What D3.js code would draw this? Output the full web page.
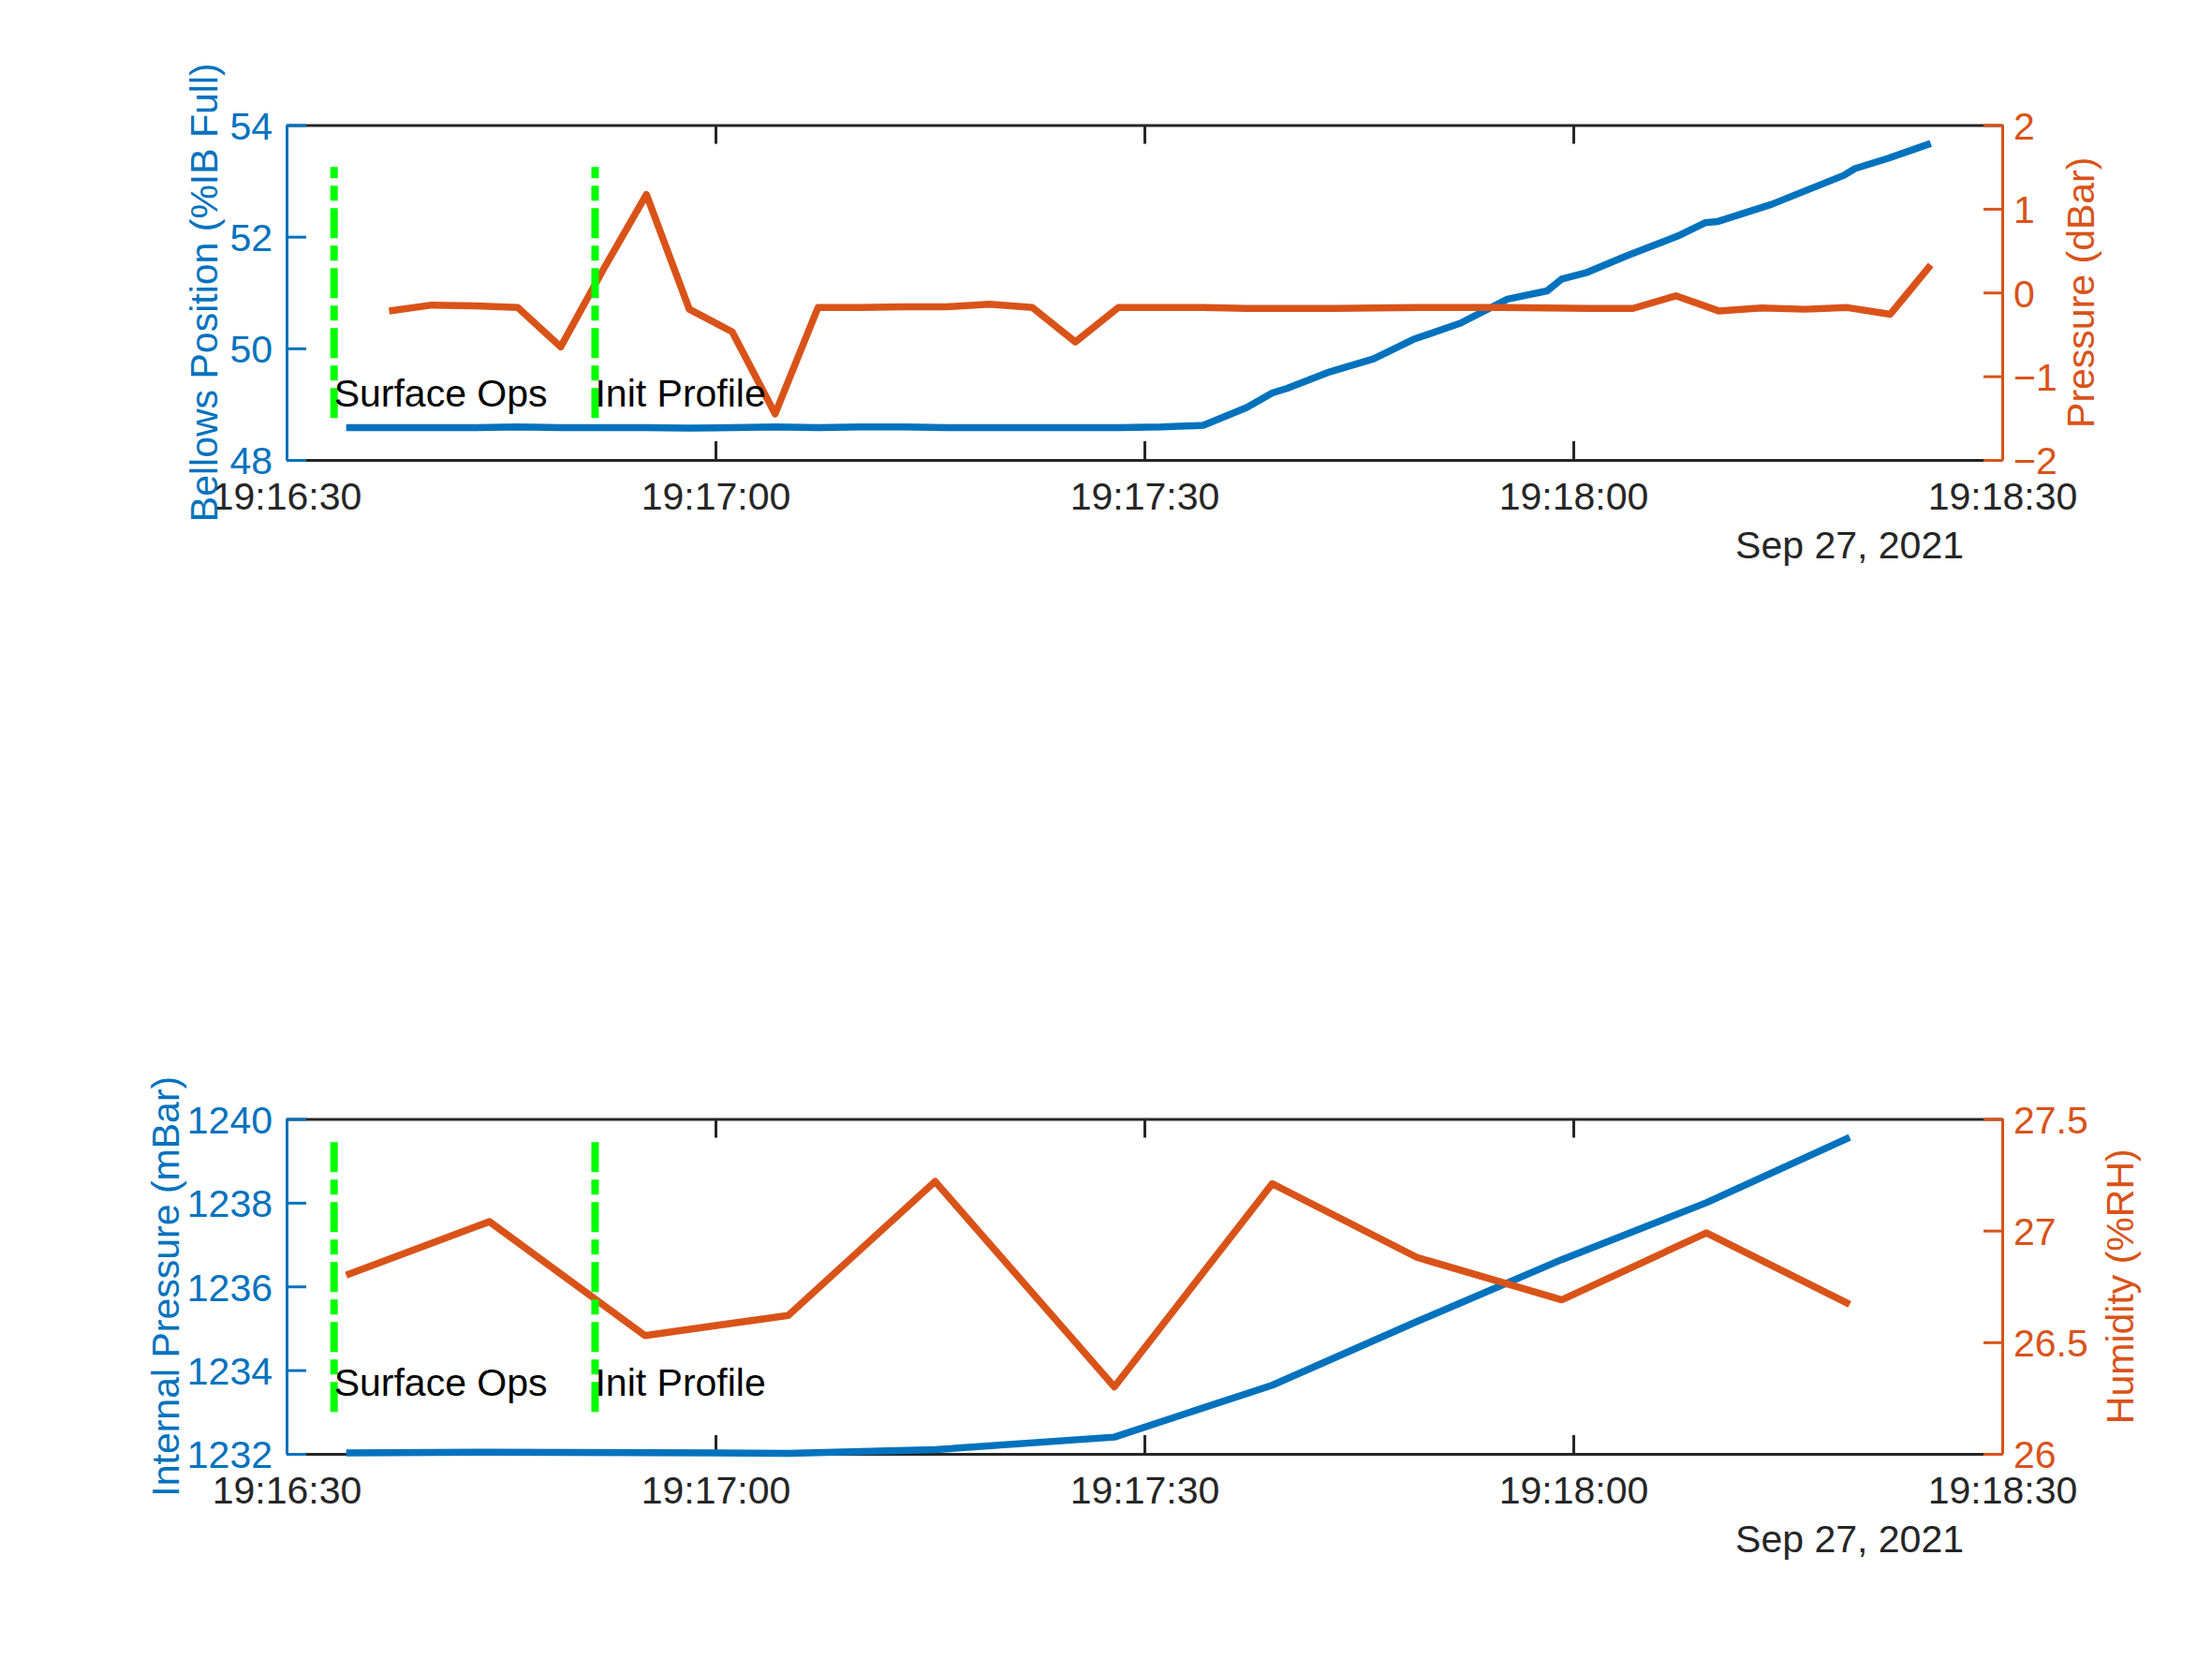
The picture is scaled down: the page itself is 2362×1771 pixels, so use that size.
<!DOCTYPE html>
<html>
<head>
<meta charset="utf-8">
<script src="https://cdn.jsdelivr.net/npm/d3@7"></script>
<style>
  html, body { margin: 0; padding: 0; background: #fff; }
  svg { display: block; }
  text { font-family: "Liberation Sans", Arial, Helvetica, sans-serif; }
</style>
</head>
<body>
<script>
// ---------------- DATA ----------------
const dayLabel = "Sep 27, 2021";
const xStart = "19:16:30";
const xEnd = "19:18:30";

// Top panel: Bellows position (left) and Pressure (right)
const bellowsTimes = [
  "19:16:34.17","19:16:37.17","19:16:40.17","19:16:43.17","19:16:46.17","19:16:49.17","19:16:52.17","19:16:55.17","19:16:58.17","19:17:01.17",
  "19:17:04.17","19:17:07.17","19:17:10.17","19:17:13.17","19:17:16.17","19:17:19.17","19:17:22.17","19:17:25.17","19:17:28.17","19:17:31.17",
  "19:17:34.13","19:17:37.16","19:17:38.94","19:17:39.95","19:17:42.99","19:17:46.02","19:17:48.81","19:17:52.10","19:17:55.39","19:17:58.17",
  "19:17:59.19","19:18:00.96","19:18:03.75","19:18:07.29","19:18:09.21","19:18:10.07","19:18:13.87","19:18:18.93","19:18:19.69","19:18:21.97",
  "19:18:25.00"
];
const bellowsValues = [
  48.58,48.58,48.58,48.58,48.59,48.58,48.58,48.58,48.57,48.58,
  48.59,48.58,48.59,48.59,48.58,48.58,48.58,48.58,48.58,48.59,
  48.62,48.94,49.20,49.28,49.58,49.81,50.16,50.45,50.88,51.03,
  51.24,51.36,51.66,52.01,52.25,52.27,52.58,53.10,53.22,53.40,
  53.67
];
const pressureTimes = [
  "19:16:37.17","19:16:40.17","19:16:43.17","19:16:46.17","19:16:49.17","19:16:52.17","19:16:55.17","19:16:58.17",
  "19:17:01.17","19:17:04.17","19:17:07.17","19:17:10.17","19:17:13.17","19:17:16.17","19:17:19.17","19:17:22.17","19:17:25.17","19:17:28.17",
  "19:17:31.17","19:17:34.17","19:17:37.17","19:17:40.17","19:17:43.17","19:17:46.17","19:17:49.17","19:17:52.17","19:17:55.17","19:17:58.17",
  "19:18:01.17","19:18:04.17","19:18:07.17","19:18:10.17","19:18:13.17","19:18:16.17","19:18:19.17","19:18:22.17","19:18:25.00"
];
const pressureValues = [
  -0.22,-0.15,-0.16,-0.18,-0.65,0.28,1.17,-0.20,
  -0.47,-1.45,-0.18,-0.18,-0.17,-0.17,-0.14,-0.18,-0.59,-0.18,
  -0.18,-0.18,-0.19,-0.19,-0.19,-0.185,-0.18,-0.18,-0.18,-0.185,
  -0.19,-0.19,-0.04,-0.22,-0.185,-0.20,-0.18,-0.26,0.33
];

// Bottom panel: Internal pressure (left) and Humidity (right)
const envTimes = [
  "19:16:34.17","19:16:44.19","19:16:55.07","19:17:05.09","19:17:15.36","19:17:27.90",
  "19:17:38.94","19:17:49.06","19:17:59.19","19:18:09.31","19:18:19.33"
];
const internalPressureValues = [1232.02,1232.04,1232.03,1232.01,1232.10,1232.40,1233.64,1235.16,1236.64,1238.00,1239.56];
const humidityValues = [26.80,27.04,26.53,26.62,27.22,26.30,27.21,26.88,26.69,26.99,26.67];

// Event markers
const eventTimes = ["19:16:33.32","19:16:51.58"];
const eventLabels = ["Surface Ops","Init Profile"];
const topMarkerSpan = [-1.5, 1.5];       // on the right (Pressure) axis
const topLabelLevel = 49.2;              // on the left (Bellows) axis
const bottomMarkerSpan = [1233, 1239.5]; // on the left (Internal Pressure) axis
const bottomLabelLevel = 1233.7;

// Axis limits / ticks
const bellowsDomain = [48, 54], bellowsTicks = [48, 50, 52, 54];
const pressureDomain = [-2, 2], pressureTicks = [-2, -1, 0, 1, 2];
const intPressDomain = [1232, 1240], intPressTicks = [1232, 1234, 1236, 1238, 1240];
const humidityDomain = [26, 27.5], humidityTicks = [26, 26.5, 27, 27.5];

// ---------------- RENDER ----------------
const W = 2362, H = 1771;
const BLUE = "#0072BD", ORANGE = "#D95319", GREEN = "#00FF00", AX = "#262626";
const FS = 41;
const left = 306, right = 2138;

const parseClock = s => {
  const [h, m, sec] = s.split(":");
  const secs = parseFloat(sec);
  return new Date(2021, 8, 27, +h, +m, Math.floor(secs), Math.round((secs - Math.floor(secs)) * 1000));
};

const svg = d3.select("body").append("svg").attr("width", W).attr("height", H);
svg.append("rect").attr("width", W).attr("height", H).attr("fill", "#fff");

const x = d3.scaleTime().domain([parseClock(xStart), parseClock(xEnd)]).range([left, right]);

function panel(cfg) {
  const { top, bottom } = cfg;
  const yL = d3.scaleLinear().domain(cfg.leftDomain).range([bottom, top]);
  const yR = d3.scaleLinear().domain(cfg.rightDomain).range([bottom, top]);
  const g = svg.append("g");

  const xTicks = d3.timeSecond.every(30);
  // bottom x axis
  const xb = g.append("g").attr("transform", `translate(0,${bottom})`)
    .call(d3.axisBottom(x).ticks(xTicks).tickFormat(d3.timeFormat("%H:%M:%S")).tickSizeInner(-20).tickSizeOuter(0).tickPadding(23));
  // top x axis (box)
  const xt = g.append("g").attr("transform", `translate(0,${top})`)
    .call(d3.axisTop(x).ticks(xTicks).tickFormat("").tickSizeInner(-20).tickSizeOuter(0));
  [xb, xt].forEach(a => {
    a.selectAll("path, line").attr("stroke", AX).attr("stroke-width", 3);
    a.selectAll("text").attr("fill", AX).attr("font-size", FS).attr("dy", null)
      .attr("dominant-baseline", "alphabetic").attr("y", 52.5);
  });

  // left y axis
  const ya = g.append("g").attr("transform", `translate(${left},0)`)
    .call(d3.axisLeft(yL).tickValues(cfg.leftTicks).tickFormat(d3.format("")).tickSizeInner(-21).tickSizeOuter(0).tickPadding(15));
  ya.selectAll("path, line").attr("stroke", BLUE).attr("stroke-width", 3);
  ya.selectAll("text").attr("fill", BLUE).attr("font-size", FS).attr("dy", "0.36em");

  // right y axis
  const yb = g.append("g").attr("transform", `translate(${right},0)`)
    .call(d3.axisRight(yR).tickValues(cfg.rightTicks).tickFormat(d3.format("")).tickSizeInner(-20).tickSizeOuter(0).tickPadding(12));
  yb.selectAll("path, line").attr("stroke", ORANGE).attr("stroke-width", 3);
  yb.selectAll("text").attr("fill", ORANGE).attr("font-size", FS).attr("dy", "0.36em");

  // date label
  g.append("text").attr("x", 2097).attr("y", bottom + 105).attr("text-anchor", "end")
    .attr("font-size", FS).attr("fill", AX).text(dayLabel);

  // y labels
  const midY = (top + bottom) / 2;
  g.append("text").attr("transform", `translate(${cfg.leftLabelX},${midY}) rotate(-90)`)
    .attr("text-anchor", "middle").attr("font-size", FS).attr("fill", BLUE).text(cfg.leftLabel);
  g.append("text").attr("transform", `translate(${cfg.rightLabelX},${midY}) rotate(-90)`)
    .attr("text-anchor", "middle").attr("font-size", FS).attr("fill", ORANGE).text(cfg.rightLabel);

  // data lines
  const line = (ys) => d3.line().x(d => x(d.t)).y(d => ys(d.v));
  const toPts = (ts, vs) => ts.map((t, i) => ({ t: parseClock(t), v: vs[i] }));
  g.append("path").datum(toPts(cfg.leftTimes, cfg.leftValues))
    .attr("d", line(yL)).attr("fill", "none").attr("stroke", BLUE).attr("stroke-width", 7.5).attr("stroke-linejoin", "round");
  g.append("path").datum(toPts(cfg.rightTimes, cfg.rightValues))
    .attr("d", line(yR)).attr("fill", "none").attr("stroke", ORANGE).attr("stroke-width", 7.5).attr("stroke-linejoin", "round");

  // event markers
  const ms = cfg.markerScale;
  eventTimes.forEach((et, i) => {
    const xe = x(parseClock(et));
    g.append("line").attr("x1", xe).attr("x2", xe)
      .attr("y1", ms(cfg.markerSpan[0])).attr("y2", ms(cfg.markerSpan[1]))
      .attr("stroke", GREEN).attr("stroke-width", 8).attr("stroke-dasharray", "32,8,16,8");
    g.append("text").attr("x", xe).attr("y", yL(cfg.labelLevel)).attr("dy", "0.35em")
      .attr("font-size", FS).attr("fill", "#000").text(eventLabels[i]);
  });
}

let yRtop = null;
panel({
  top: 133.5, bottom: 491,
  leftDomain: bellowsDomain, leftTicks: bellowsTicks,
  rightDomain: pressureDomain, rightTicks: pressureTicks,
  leftLabel: "Bellows Position (%IB Full)", rightLabel: "Pressure (dBar)",
  leftLabelX: 232, rightLabelX: 2236,
  leftTimes: bellowsTimes, leftValues: bellowsValues,
  rightTimes: pressureTimes, rightValues: pressureValues,
  markerScale: d3.scaleLinear().domain(pressureDomain).range([491, 133.5]),
  markerSpan: topMarkerSpan, labelLevel: topLabelLevel
});
panel({
  top: 1194.5, bottom: 1552,
  leftDomain: intPressDomain, leftTicks: intPressTicks,
  rightDomain: humidityDomain, rightTicks: humidityTicks,
  leftLabel: "Internal Pressure (mBar)", rightLabel: "Humidity (%RH)",
  leftLabelX: 191, rightLabelX: 2278,
  leftTimes: envTimes, leftValues: internalPressureValues,
  rightTimes: envTimes, rightValues: humidityValues,
  markerScale: d3.scaleLinear().domain(intPressDomain).range([1552, 1194.5]),
  markerSpan: bottomMarkerSpan, labelLevel: bottomLabelLevel
});
</script>
</body>
</html>
